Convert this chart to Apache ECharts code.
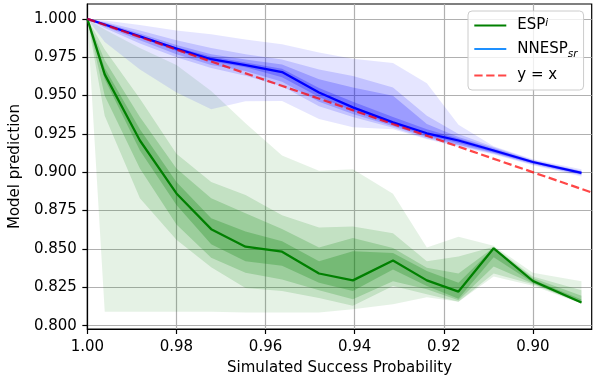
<!DOCTYPE html>
<html>
<head>
<meta charset="utf-8">
<script src="https://cdn.jsdelivr.net/npm/echarts@6/dist/echarts.min.js"></script>
<style>
html,body{margin:0;padding:0;background:#fff;}
#chart{width:595px;height:381px;}
</style>
</head>
<body>
<div id="chart"></div>
<script>
// x positions (simulated success probability)
const xs = [1.0, 0.9961, 0.9882, 0.98, 0.9722, 0.9645, 0.9563, 0.948, 0.9404, 0.9314, 0.9238, 0.9167, 0.9088, 0.90, 0.8891];

// ESP^i median and nested bands (1 = widest)
const espMedian = [1.000, 0.9638, 0.9207, 0.8862, 0.8629, 0.8515, 0.8482, 0.8340, 0.8295, 0.8424, 0.8295, 0.8222, 0.8504, 0.8291, 0.8151];
const espHi1 = [1.000, 0.993, 0.981, 0.970, 0.953, 0.932, 0.911, 0.901, 0.902, 0.886, 0.851, 0.858, 0.852, 0.8345, 0.829];
const espLo1 = [1.000, 0.809, 0.809, 0.809, 0.809, 0.8086, 0.8086, 0.8085, 0.8107, 0.814, 0.8185, 0.8155, 0.832, 0.826, 0.8143];
const espHi2 = [1.000, 0.980, 0.948, 0.912, 0.8937, 0.8851, 0.872, 0.864, 0.8647, 0.8603, 0.842, 0.845, 0.8515, 0.832, 0.823];
const espLo2 = [1.000, 0.9368, 0.883, 0.856, 0.838, 0.8245, 0.8225, 0.818, 0.813, 0.8259, 0.8204, 0.8155, 0.834, 0.827, 0.8145];
const espHi3 = [1.000, 0.973, 0.936, 0.9024, 0.883, 0.8733, 0.863, 0.851, 0.8571, 0.8506, 0.8377, 0.834, 0.851, 0.831, 0.8195];
const espLo3 = [1.000, 0.9498, 0.9024, 0.866, 0.8442, 0.8345, 0.830, 0.823, 0.8172, 0.829, 0.8237, 0.8165, 0.8385, 0.8275, 0.8146];
const espHi4 = [1.000, 0.968, 0.928, 0.8937, 0.870, 0.8614, 0.855, 0.842, 0.8485, 0.8474, 0.8356, 0.828, 0.8508, 0.830, 0.817];
const espLo4 = [1.000, 0.9606, 0.9142, 0.8786, 0.853, 0.842, 0.839, 0.828, 0.8226, 0.8366, 0.8259, 0.8175, 0.8445, 0.828, 0.8148];

// NNESP_sr median and nested bands
const nnMedian = [1.0, 0.9963, 0.9886, 0.9806, 0.9737, 0.9698, 0.9653, 0.9520, 0.9423, 0.9325, 0.9254, 0.9207, 0.9142, 0.9067, 0.8996];
const nnHi1 = [1.0, 0.999, 0.996, 0.9925, 0.990, 0.9865, 0.9835, 0.978, 0.974, 0.9713, 0.958, 0.931, 0.917, 0.9085, 0.902];
const nnLo1 = [1.0, 0.985, 0.967, 0.952, 0.941, 0.9463, 0.9465, 0.9347, 0.9293, 0.928, 0.9215, 0.9165, 0.9115, 0.9045, 0.8972];
const nnHi2 = [1.0, 0.998, 0.9925, 0.986, 0.981, 0.977, 0.9735, 0.967, 0.9627, 0.9552, 0.9368, 0.925, 0.9165, 0.908, 0.901];
const nnLo2 = [1.0, 0.994, 0.984, 0.975, 0.968, 0.963, 0.956, 0.943, 0.936, 0.929, 0.922, 0.9175, 0.912, 0.905, 0.898];
const nnHi3 = [1.0, 0.9975, 0.9905, 0.983, 0.977, 0.9735, 0.9703, 0.9606, 0.9552, 0.9498, 0.9315, 0.923, 0.9158, 0.9075, 0.9005];
const nnLo3 = [1.0, 0.995, 0.986, 0.977, 0.970, 0.966, 0.959, 0.946, 0.938, 0.930, 0.923, 0.918, 0.9125, 0.9055, 0.8985];
const nnHi4 = [1.0, 0.9968, 0.989, 0.9815, 0.9755, 0.9715, 0.9675, 0.955, 0.946, 0.936, 0.928, 0.922, 0.915, 0.907, 0.900];
const nnLo4 = [1.0, 0.9958, 0.9878, 0.979, 0.9722, 0.9685, 0.962, 0.949, 0.940, 0.931, 0.924, 0.919, 0.913, 0.906, 0.899];

// reference y = x
const refX = [1.0, 0.8868];
const refY = [1.0, 0.8868];

// axis ticks
const xTicks = [1.00, 0.98, 0.96, 0.94, 0.92, 0.90];
const yTicks = [0.800, 0.825, 0.850, 0.875, 0.900, 0.925, 0.950, 0.975, 1.000];
const xRange = [0.8868, 1.0];
const yRange = [0.7978, 1.0097];

const FONT = 'DejaVu Sans';

function band(xv, lo, hi, color, z) {
  return {
    type: 'custom',
    silent: true,
    z: z,
    data: xv.map((x, i) => [x, lo[i], hi[i]]),
    encode: { x: 0, y: [1, 2] },
    renderItem: function (params, api) {
      if (params.dataIndex !== 0) return null;
      const top = xv.map((x, i) => api.coord([x, hi[i]]));
      const bot = xv.map((x, i) => api.coord([x, lo[i]])).reverse();
      return { type: 'polygon', shape: { points: top.concat(bot) }, style: { fill: color, stroke: null } };
    }
  };
}

const green = (a) => 'rgba(0,128,0,' + a + ')';
const blue = (a) => 'rgba(0,0,255,' + a + ')';

const series = [
  band(xs, espLo1, espHi1, green(0.10), 1),
  band(xs, espLo2, espHi2, green(0.15), 1),
  band(xs, espLo3, espHi3, green(0.20), 1),
  band(xs, espLo4, espHi4, green(0.25), 1),
  band(xs, nnLo1, nnHi1, blue(0.10), 1),
  band(xs, nnLo2, nnHi2, blue(0.15), 1),
  band(xs, nnLo3, nnHi3, blue(0.20), 1),
  band(xs, nnLo4, nnHi4, blue(0.25), 1),
  {
    name: 'ESP', type: 'line', z: 3, symbol: 'none',
    data: xs.map((x, i) => [x, espMedian[i]]),
    lineStyle: { color: '#008000', width: 2.25 }, itemStyle: { color: '#008000' }
  },
  {
    name: 'NNESP', type: 'line', z: 3, symbol: 'none',
    data: xs.map((x, i) => [x, nnMedian[i]]),
    lineStyle: { color: '#0000ff', width: 2.25 }, itemStyle: { color: '#0000ff' }
  },
  {
    name: 'y = x', type: 'line', z: 4, symbol: 'none',
    data: refX.map((x, i) => [x, refY[i]]),
    lineStyle: { color: 'rgba(255,0,0,0.72)', width: 2.25, type: [8.3, 3.6] },
    itemStyle: { color: 'rgba(255,0,0,0.72)' }
  }
];

const chart = echarts.init(document.getElementById('chart'), null, { renderer: 'canvas' });
chart.setOption({
  animation: false,
  backgroundColor: '#ffffff',
  grid: { left: 87.3, right: 3.3, top: 4, bottom: 49.3, show: true, borderColor: '#000', borderWidth: 1.2, backgroundColor: 'transparent' },
  legend: {
    orient: 'vertical', left: 468, top: 11,
    padding: [7, 6, 7, 5.3],
    itemWidth: 32, itemHeight: 14, itemGap: 8.5,
    backgroundColor: 'rgba(255,255,255,0.8)',
    borderColor: '#cccccc', borderWidth: 1, borderRadius: 4,
    itemStyle: { opacity: 0 },
    data: [
      { name: 'ESP', itemStyle: { opacity: 0 } },
      { name: 'NNESP', itemStyle: { color: '#1e90ff', opacity: 0 }, lineStyle: { color: '#1e90ff' } },
      { name: 'y = x', itemStyle: { opacity: 0 } }
    ],
    formatter: function (name) {
      if (name === 'ESP') return '{m|ESP}{sup|i}';
      if (name === 'NNESP') return '{m2|NNESP}{sub|sr}';
      return '{m|y = x}';
    },
    textStyle: {
      fontFamily: FONT, fontSize: 15, color: '#000',
      rich: {
        m: { fontFamily: FONT, fontSize: 15, color: '#000', padding: [0, 0, 0, 6] },
        m2: { fontFamily: FONT, fontSize: 15, color: '#000', padding: [3, 0, 3, 6] },
        sup: { fontFamily: FONT, fontSize: 10.5, fontStyle: 'italic', color: '#000', verticalAlign: 'top' },
        sub: { fontFamily: FONT, fontSize: 10.5, fontStyle: 'italic', color: '#000', verticalAlign: 'bottom' }
      }
    }
  },
  xAxis: {
    type: 'value', inverse: true, min: xRange[0], max: xRange[1],
    name: 'Simulated Success Probability', nameLocation: 'middle', nameGap: 32,
    nameTextStyle: { fontFamily: FONT, fontSize: 15, color: '#000' },
    axisLine: { show: true, lineStyle: { color: '#000', width: 1.2 } },
    axisTick: { show: true, length: 5, lineStyle: { color: '#000', width: 1.2 }, customValues: xTicks },
    axisLabel: { fontFamily: FONT, fontSize: 15, color: '#000', margin: 11, customValues: xTicks, formatter: v => v.toFixed(2) },
    splitLine: { show: true, lineStyle: { color: '#b0b0b0', width: 1.2 } }
  },
  yAxis: {
    type: 'value', min: yRange[0], max: yRange[1],
    name: 'Model prediction', nameLocation: 'middle', nameGap: 54,
    nameTextStyle: { fontFamily: FONT, fontSize: 15, color: '#000' },
    axisLine: { show: true, lineStyle: { color: '#000', width: 1.2 } },
    axisTick: { show: true, length: 5, lineStyle: { color: '#000', width: 1.2 }, customValues: yTicks },
    axisLabel: { fontFamily: FONT, fontSize: 15, color: '#000', margin: 10.5, customValues: yTicks, formatter: v => v.toFixed(3) },
    splitLine: { show: true, lineStyle: { color: '#b0b0b0', width: 1.2 } }
  },
  series: series
});
</script>
</body>
</html>
